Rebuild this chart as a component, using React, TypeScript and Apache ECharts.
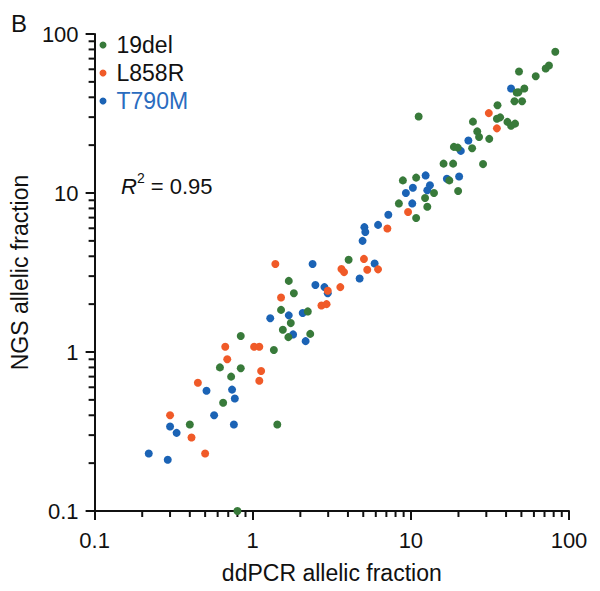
import React, { useEffect, useRef } from "react";
import * as echarts from "echarts";

// ddPCR (x) vs NGS (y) allelic fractions
const DEL19: [number, number][] = [
  [0.8, 0.1], [0.4, 0.35], [1.43, 0.35], [0.65, 0.48], [0.73, 0.7], [0.62, 0.8], [0.84, 0.79],
  [0.84, 1.26], [1.36, 1.03], [1.68, 1.24], [1.55, 1.38], [1.74, 1.52], [1.51, 1.84], [1.69, 2.8],
  [1.82, 2.34], [2.23, 1.8], [2.31, 1.3], [4.04, 3.8], [8.9, 12.0], [10.8, 12.5], [16.1, 15.3],
  [18.5, 15.3], [14.0, 10.0], [12.3, 9.3], [12.7, 8.2], [8.4, 8.6], [10.8, 6.96], [17.5, 12.0],
  [19.9, 10.3], [81.9, 77.3], [74.7, 63.4], [71.2, 60.7], [48.3, 58.1], [61.6, 54.3], [52.2, 45.4],
  [46.7, 42.9], [47.9, 43.0], [45.2, 37.8], [50.5, 37.8], [35.3, 35.6], [35.0, 29.3], [36.7, 29.9],
  [40.8, 28.0], [43.0, 26.5], [45.6, 27.3], [24.7, 28.1], [26.3, 24.4], [27.0, 22.5], [31.3, 21.9],
  [24.4, 19.1], [18.7, 19.5], [19.8, 19.3], [28.6, 15.2], [11.2, 30.3],
];

const L858R: [number, number][] = [
  [0.3, 0.4], [0.41, 0.29], [0.5, 0.23], [0.45, 0.64], [0.67, 1.08], [0.69, 0.9], [1.02, 1.08],
  [1.1, 1.08], [1.13, 0.76], [1.1, 0.66], [1.39, 3.58], [1.51, 2.2], [2.72, 1.96], [2.93, 2.0],
  [2.98, 2.43], [3.58, 2.56], [3.64, 3.33], [3.78, 3.18], [5.3, 3.29], [6.2, 3.31], [5.05, 3.85],
  [7.1, 5.98], [9.6, 7.6], [31.1, 31.8], [35.0, 25.5],
];

const T790M: [number, number][] = [
  [0.22, 0.23], [0.29, 0.21], [0.3, 0.34], [0.33, 0.31], [0.51, 0.57], [0.57, 0.4], [0.74, 0.58],
  [0.77, 0.51], [0.76, 0.35], [1.29, 1.63], [1.69, 1.7], [1.8, 1.29], [2.07, 1.76], [2.16, 1.17],
  [2.39, 3.58], [2.49, 2.64], [2.84, 2.56], [2.98, 2.34], [4.74, 2.9], [5.9, 3.6], [4.95, 5.0],
  [5.08, 6.1], [5.15, 5.68], [6.2, 6.3], [7.2, 7.3], [10.2, 8.6], [9.3, 10.0], [10.3, 10.8],
  [12.7, 10.4], [13.2, 11.2], [12.4, 12.9], [16.9, 12.3], [20.2, 12.7], [20.7, 18.4], [23.1, 21.4],
  [43.0, 45.4],
];

const SERIES_NAMES = ["19del", "L858R", "T790M"];
const MINOR_TICKS = [
  0.2, 0.3, 0.4, 0.5, 0.6, 0.7, 0.8, 0.9,
  2, 3, 4, 5, 6, 7, 8, 9,
  20, 30, 40, 50, 60, 70, 80, 90,
];
const AXIS_MIN = 0.1;
const AXIS_MAX = 100;

const GREEN = "#387a3a";
const RED = "#f05a28";
const BLUE = "#1b63b5";
const INK = "#111111";
const FONT = "'Liberation Sans', Arial, Helvetica, sans-serif";

export default function App() {
  const ref = useRef<HTMLDivElement>(null);

  useEffect(() => {
    document.body.style.margin = "0";
    if (!ref.current) return;
    const chart = echarts.init(ref.current, null, { renderer: "svg" });

    const axisCommon = {
      type: "log" as const,
      logBase: 10,
      min: AXIS_MIN,
      max: AXIS_MAX,
      axisLine: { show: true, lineStyle: { color: INK, width: 2 } },
      axisTick: { show: true, length: 9, lineStyle: { color: INK, width: 2 } },
      splitLine: { show: false },
      nameLocation: "middle" as const,
    };

    const scatter = (name: string, data: [number, number][], color: string, z: number) => ({
      type: "scatter",
      name,
      data,
      symbol: "circle",
      symbolSize: 8,
      itemStyle: { color, opacity: 1 },
      z,
    });

    const baseGraphics: any[] = [
      {
        type: "text",
        id: "panel",
        left: 11,
        top: 11,
        style: { text: "B", fontSize: 24, fill: INK, fontFamily: FONT },
      },
      {
        type: "text",
        id: "r2",
        left: 121,
        top: 171,
        style: {
          text: "{i|R}{s|2}{n| = 0.95}",
          fill: INK,
          fontFamily: FONT,
          rich: {
            i: { fontStyle: "italic", fontSize: 22, fontFamily: FONT, lineHeight: 26, verticalAlign: "bottom" },
            s: { fontSize: 14, fontFamily: FONT, lineHeight: 14, verticalAlign: "top" },
            n: { fontSize: 22, fontFamily: FONT, lineHeight: 26, verticalAlign: "bottom" },
          },
        },
      },
    ];

    chart.setOption({
      animation: false,
      textStyle: { fontFamily: FONT },
      grid: { left: 93, right: 31, top: 34, bottom: 80 },
      xAxis: {
        ...axisCommon,
        axisLabel: { fontSize: 22, color: INK, margin: 18, fontFamily: FONT },
        name: "ddPCR allelic fraction",
        nameGap: 50,
        nameTextStyle: { fontSize: 23, color: INK, fontFamily: FONT },
      },
      yAxis: {
        ...axisCommon,
        axisLabel: { fontSize: 22, color: INK, margin: 16, fontFamily: FONT },
        name: "NGS allelic fraction",
        nameGap: 48,
        nameTextStyle: { fontSize: 23, color: INK, fontFamily: FONT },
      },
      legend: {
        orient: "vertical",
        left: 99.5,
        top: 33.5,
        padding: 0,
        itemGap: 5,
        itemWidth: 17,
        itemHeight: 7,
        icon: "circle",
        selectedMode: false,
        textStyle: { fontSize: 23, lineHeight: 23, color: INK, fontFamily: FONT },
        data: [
          { name: SERIES_NAMES[0] },
          { name: SERIES_NAMES[1] },
          { name: SERIES_NAMES[2], textStyle: { color: "#2a6cbf" } },
        ],
      },
      graphic: baseGraphics,
      series: [
        scatter(SERIES_NAMES[2], T790M, BLUE, 2),
        scatter(SERIES_NAMES[1], L858R, RED, 3),
        scatter(SERIES_NAMES[0], DEL19, GREEN, 4),
      ],
    });

    // minor ticks positioned through the axes' own log scales
    const minor: any[] = [];
    MINOR_TICKS.forEach((v, i) => {
      const px = chart.convertToPixel({ gridIndex: 0 }, [v, AXIS_MIN]) as number[];
      minor.push({
        type: "rect",
        id: "xm" + i,
        silent: true,
        shape: { x: px[0] - 1, y: px[1], width: 2, height: 6 },
        style: { fill: INK },
      });
      const py = chart.convertToPixel({ gridIndex: 0 }, [AXIS_MIN, v]) as number[];
      minor.push({
        type: "rect",
        id: "ym" + i,
        silent: true,
        shape: { x: py[0] - 6, y: py[1] - 1, width: 6, height: 2 },
        style: { fill: INK },
      });
    });
    chart.setOption({ graphic: [...baseGraphics, ...minor] });

    return () => chart.dispose();
  }, []);

  return <div ref={ref} style={{ width: 600, height: 591 }} />;
}
